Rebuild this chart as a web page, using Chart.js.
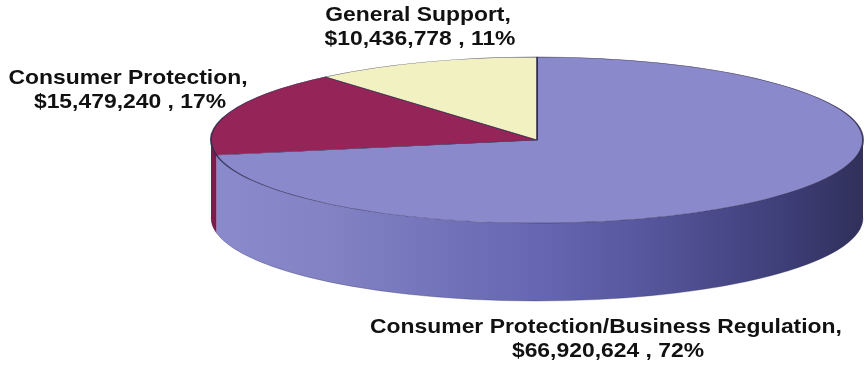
<!DOCTYPE html>
<html>
<head>
<meta charset="utf-8">
<script src="https://cdn.jsdelivr.net/npm/chart.js@4.4.1/dist/chart.umd.min.js"></script>
<style>
  html, body { margin: 0; padding: 0; background: #fff; }
  #budgetChart { display: block; }
</style>
</head>
<body>
<canvas id="budgetChart" width="867" height="368"></canvas>
<script>
// slices go clockwise from 12 o'clock
const programs = ['Consumer Protection/Business Regulation', 'Consumer Protection', 'General Support'];
const amounts = [66920624, 15479240, 10436778];
const topColors = ['#8a89cc', '#952458', '#f1f1c2'];

const total = amounts.reduce((a, b) => a + b, 0);

// ellipse used for the tilted pie
const pieBox = { cx: 537, cy: 140, rx: 326, ry: 83, depth: 78 };

const pie3d = {
    id: 'pie3d',
    beforeDatasetsDraw(chart) {
        const ctx = chart.ctx;
        const arcs = chart.getDatasetMeta(0).data;
        const { cx, cy, rx, ry, depth } = pieBox;

        // side wall, only the front half is visible
        arcs.forEach((arc, i) => {
            const a1 = Math.max(arc.startAngle, 0);
            const a2 = Math.min(arc.endAngle, Math.PI);
            if (a2 <= a1) return;
            ctx.beginPath();
            ctx.ellipse(cx, cy, rx, ry, 0, a1, a2, false);
            ctx.ellipse(cx, cy + depth, rx, ry, 0, a2, a1, true);
            ctx.closePath();
            if (i === 0) {
                const g = ctx.createLinearGradient(cx - rx, 0, cx + rx, 0);
                g.addColorStop(0, '#8a8acc');
                g.addColorStop(0.18, '#8282c4');
                g.addColorStop(0.5, '#6666b2');
                g.addColorStop(0.65, '#5858a0');
                g.addColorStop(0.88, '#3e3e78');
                g.addColorStop(1, '#30305a');
                ctx.fillStyle = g;
            } else {
                ctx.fillStyle = '#7c1c4a';
            }
            ctx.fill();
            ctx.strokeStyle = 'rgba(40,40,80,0.5)';
            ctx.lineWidth = 0.6;
            ctx.beginPath();
            ctx.ellipse(cx, cy + depth, rx, ry, 0, a1, a2, false);
            ctx.stroke();
        });

        // squash the round pie into the top ellipse
        const r = arcs[0].outerRadius;
        ctx.save();
        ctx.translate(cx, cy);
        ctx.scale(rx / r, ry / r);
        ctx.translate(-arcs[0].x, -arcs[0].y);
    },
    afterDatasetsDraw(chart) {
        chart.ctx.restore();
    },
    afterDraw(chart) {
        const ctx = chart.ctx;
        const spots = [
            { x: 606, y: 333 },
            { x: 128, y: 84 },
            { x: 418, y: 21 }
        ];
        ctx.fillStyle = '#111';
        ctx.font = 'bold 21px "Liberation Sans", Arial, sans-serif';
        ctx.textAlign = 'center';
        ctx.textBaseline = 'alphabetic';
        const put = (txt, x, y) => {
            ctx.save();
            ctx.translate(x, y);
            ctx.scale(1.09, 1);
            ctx.fillText(txt, 0, 0);
            ctx.restore();
        };
        programs.forEach((name, i) => {
            const pct = Math.round(amounts[i] / total * 100);
            const line2 = '$' + amounts[i].toLocaleString('en-US') + ' , ' + pct + '%';
            put(name + ',', spots[i].x, spots[i].y);
            put(line2, spots[i].x + 2, spots[i].y + 24);
        });
    }
};

new Chart(document.getElementById('budgetChart'), {
    type: 'pie',
    data: {
        labels: programs,
        datasets: [{
            data: amounts,
            backgroundColor: topColors,
            borderColor: 'rgba(45,40,75,0.85)',
            borderWidth: 1
        }]
    },
    options: {
        responsive: false,
        animation: false,
        layout: { padding: 0 },
        plugins: {
            legend: { display: false },
            tooltip: { enabled: false }
        }
    },
    plugins: [pie3d]
});
</script>
</body>
</html>
